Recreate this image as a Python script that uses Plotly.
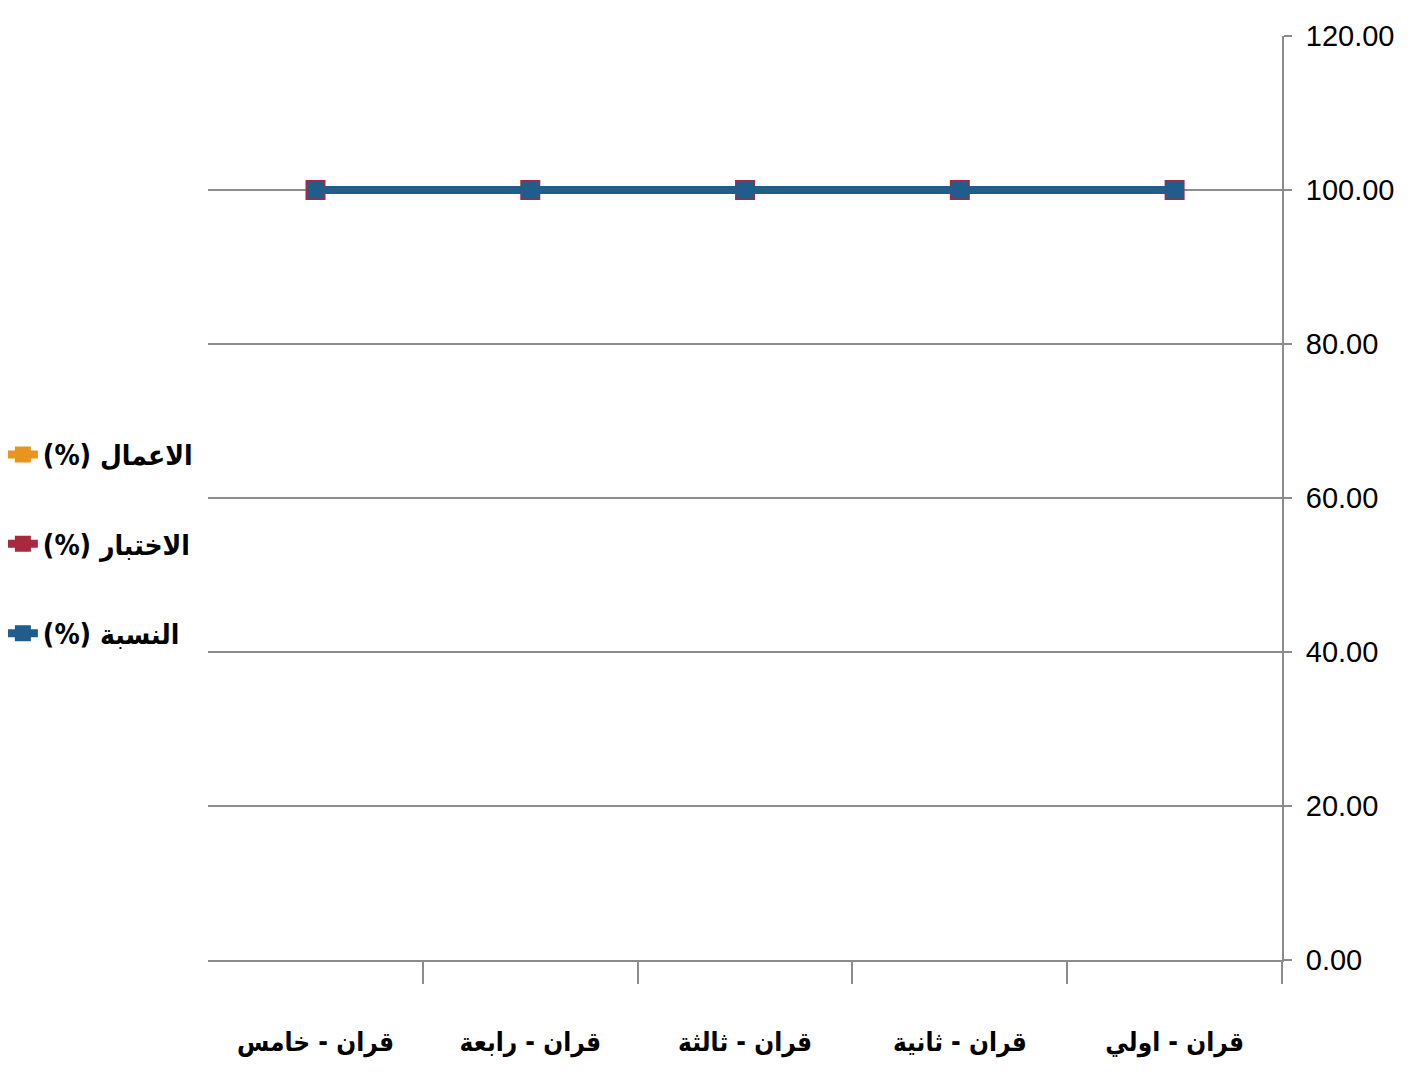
import plotly.graph_objects as go

categories = ["قران - اولي", "قران - ثانية", "قران - ثالثة", "قران - رابعة", "قران - خامس"]
works_pct = [100, 100, 100, 100, 100]
exam_pct = [100, 100, 100, 100, 100]
ratio_pct = [100, 100, 100, 100, 100]
series_names = ["(%) الاعمال", "(%) الاختبار", "(%) النسبة"]
y_ticks = [0, 20, 40, 60, 80, 100, 120]

fig = go.Figure()
fig.add_trace(go.Scatter(x=categories, y=works_pct, name=series_names[0], mode="lines+markers",
                         line=dict(color="#E8951F", width=8),
                         marker=dict(symbol="square", size=18, color="#E8951F"),
                         legendgroup="a"))
fig.add_trace(go.Scatter(x=categories, y=exam_pct, name=series_names[1], mode="lines+markers",
                         line=dict(color="#A8283E", width=8),
                         marker=dict(symbol="square", size=20, color="#A8283E"),
                         legendgroup="b"))
fig.add_trace(go.Scatter(x=categories, y=ratio_pct, name=series_names[2], mode="lines+markers",
                         line=dict(color="#1F5D8C", width=8),
                         marker=dict(symbol="square", size=17, color="#1F5D8C"),
                         legendgroup="c"))

fig.update_layout(
    width=1404, height=1075,
    margin=dict(l=200, r=130, t=28, b=123, autoexpand=False),
    plot_bgcolor="white", paper_bgcolor="white",
    showlegend=True,
    legend=dict(x=-0.191, xanchor="left", y=0.45, yanchor="middle",
                font=dict(family="DejaVu Sans Condensed, DejaVu Sans", size=28, color="black", weight="bold"),
                traceorder="grouped", tracegroupgap=50, itemwidth=30,
                bgcolor="rgba(0,0,0,0)"),
)
fig.update_xaxes(
    type="category", range=[len(categories) - 0.4995, -0.5], automargin=False, tickangle=0,
    showline=True, linecolor="#8c8c8c", linewidth=2,
    ticks="outside", tickson="boundaries", ticklen=22, tickcolor="#8c8c8c", tickwidth=2,
    showgrid=False,
    tickfont=dict(family="DejaVu Sans Condensed, DejaVu Sans", size=26, color="black", weight="bold"),
    ticklabelstandoff=58,
)
fig.update_yaxes(
    side="right", range=[0, 120], tickvals=y_ticks, tickformat=".2f", automargin=False,
    showline=True, linecolor="#8c8c8c", linewidth=2,
    ticks="outside", ticklen=8, tickcolor="#8c8c8c", tickwidth=2,
    showgrid=True, gridcolor="#8c8c8c", gridwidth=2,
    zeroline=False,
    tickfont=dict(family="Liberation Sans Narrow, Liberation Sans", size=29, color="black"),
    ticklabelstandoff=8,
)

fig.write_html("out.html")
